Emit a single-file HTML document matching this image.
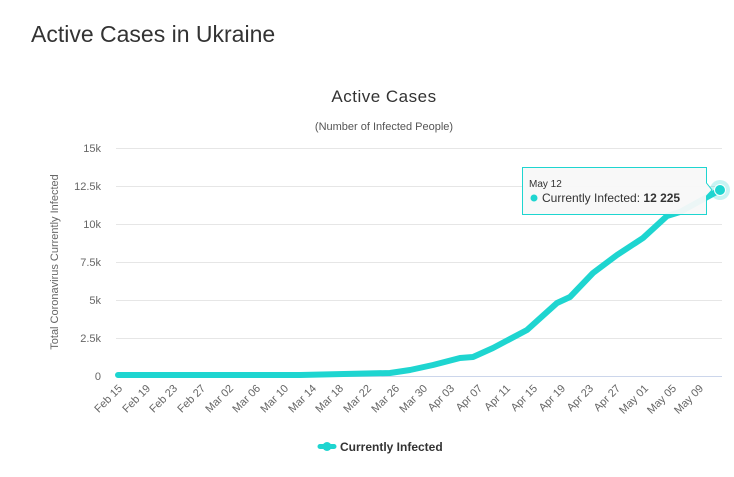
<!DOCTYPE html>
<html><head><style>
body{margin:0;background:#fff;width:734px;height:472px;overflow:hidden;font-family:"Liberation Sans",sans-serif;}
</style></head><body>
<svg width="734" height="472" xmlns="http://www.w3.org/2000/svg" font-family="Liberation Sans, sans-serif">
<text x="31" y="42" font-size="23" fill="#333">Active Cases in Ukraine</text>
<text x="384" y="102" font-size="17" fill="#333" text-anchor="middle" letter-spacing="0.5">Active Cases</text>
<text x="384" y="130" font-size="11" fill="#555" text-anchor="middle">(Number of Infected People)</text>
<g stroke="#e6e6e6" stroke-width="1">
<line x1="116" x2="722" y1="148.5" y2="148.5"/>
<line x1="116" x2="722" y1="186.5" y2="186.5"/>
<line x1="116" x2="722" y1="224.5" y2="224.5"/>
<line x1="116" x2="722" y1="262.5" y2="262.5"/>
<line x1="116" x2="722" y1="300.5" y2="300.5"/>
<line x1="116" x2="722" y1="338.5" y2="338.5"/>
<line x1="116" x2="722" y1="376.5" y2="376.5" stroke="#ccd6eb"/>
</g>
<g font-size="11" fill="#666" text-anchor="end">
<text x="101" y="152">15k</text>
<text x="101" y="190">12.5k</text>
<text x="101" y="228">10k</text>
<text x="101" y="266">7.5k</text>
<text x="101" y="304">5k</text>
<text x="101" y="342">2.5k</text>
<text x="101" y="380">0</text>
</g>
<text transform="translate(58,262) rotate(-90)" font-size="11" fill="#666" text-anchor="middle">Total Coronavirus Currently Infected</text>
<g font-size="11" fill="#666" text-anchor="end">
<text transform="translate(123,389) rotate(-45)">Feb 15</text>
<text transform="translate(151,389) rotate(-45)">Feb 19</text>
<text transform="translate(178,389) rotate(-45)">Feb 23</text>
<text transform="translate(206,389) rotate(-45)">Feb 27</text>
<text transform="translate(234,389) rotate(-45)">Mar 02</text>
<text transform="translate(261,389) rotate(-45)">Mar 06</text>
<text transform="translate(289,389) rotate(-45)">Mar 10</text>
<text transform="translate(317,389) rotate(-45)">Mar 14</text>
<text transform="translate(344,389) rotate(-45)">Mar 18</text>
<text transform="translate(372,389) rotate(-45)">Mar 22</text>
<text transform="translate(400,389) rotate(-45)">Mar 26</text>
<text transform="translate(428,389) rotate(-45)">Mar 30</text>
<text transform="translate(455,389) rotate(-45)">Apr 03</text>
<text transform="translate(483,389) rotate(-45)">Apr 07</text>
<text transform="translate(511,389) rotate(-45)">Apr 11</text>
<text transform="translate(538,389) rotate(-45)">Apr 15</text>
<text transform="translate(566,389) rotate(-45)">Apr 19</text>
<text transform="translate(594,389) rotate(-45)">Apr 23</text>
<text transform="translate(621,389) rotate(-45)">Apr 27</text>
<text transform="translate(649,389) rotate(-45)">May 01</text>
<text transform="translate(677,389) rotate(-45)">May 05</text>
<text transform="translate(704,389) rotate(-45)">May 09</text>
</g>
<polyline fill="none" stroke="#1ed5d0" stroke-width="6" stroke-linejoin="round" stroke-linecap="round"
points="118,375 300,375 390,373 410,370 433,365 460,358 473,357 493,348 527,330 557,303 570,297 593,273 617,255 643,238 667,216 680,212 720,190"/>
<circle cx="720" cy="190" r="10" fill="#1ed5d0" opacity="0.25"/>
<circle cx="720" cy="190" r="5.5" fill="#1ed5d0" stroke="#fff" stroke-width="1"/>
<path d="M522.5,167.5 H706.5 V183 L712,190 L706.5,196 V214.5 H522.5 Z" fill="#f8f8f8" fill-opacity="0.95" stroke="#1ed5d0" stroke-width="1"/>
<text x="529" y="187" font-size="10" fill="#333">May 12</text>
<circle cx="534" cy="198" r="3.5" fill="#1ed5d0"/>
<text x="542" y="202" font-size="12" fill="#333">Currently Infected: <tspan font-weight="bold">12 225</tspan></text>
<line x1="320" x2="334" y1="446.5" y2="446.5" stroke="#1ed5d0" stroke-width="5" stroke-linecap="round"/>
<circle cx="327" cy="446.5" r="4.5" fill="#1ed5d0"/>
<text x="340" y="451" font-size="12" font-weight="bold" fill="#333">Currently Infected</text>
</svg>
</body></html>
